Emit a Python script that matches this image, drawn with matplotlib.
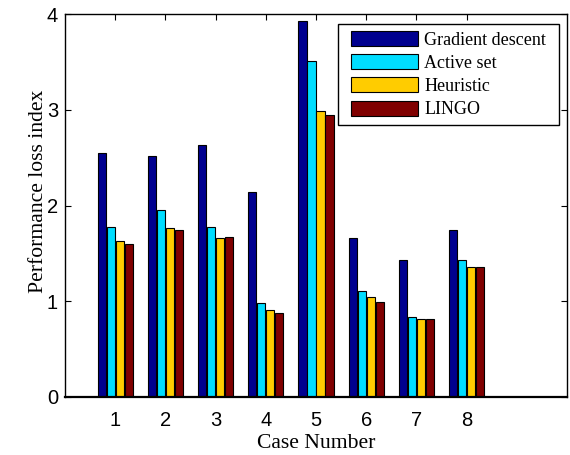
import numpy as np
import matplotlib
matplotlib.use("Agg")
import matplotlib.pyplot as plt
from matplotlib.patches import Rectangle
from matplotlib.transforms import IdentityTransform

cases = [1, 2, 3, 4, 5, 6, 7, 8]
gradient_descent = [2.55, 2.52, 2.63, 2.14, 3.93, 1.66, 1.43, 1.74]
active_set = [1.78, 1.95, 1.78, 0.98, 3.51, 1.11, 0.84, 1.43]
heuristic = [1.63, 1.76, 1.66, 0.91, 2.99, 1.04, 0.81, 1.36]
lingo = [1.60, 1.74, 1.67, 0.88, 2.94, 0.99, 0.81, 1.36]

series_names = ["Gradient descent", "Active set", "Heuristic", "LINGO"]
series_values = [gradient_descent, active_set, heuristic, lingo]
series_colors = ["#00008F", "#00DDFF", "#FFCC00", "#800000"]

serif = ["Liberation Serif", "DejaVu Serif"]
sans = ["Liberation Sans", "DejaVu Sans"]

fig = plt.figure(figsize=(5.70, 4.55), dpi=100)
ax = fig.add_axes([65 / 570, 58 / 455, 502 / 570, 383 / 455])

x = np.array(cases, dtype=float)
slot = 0.18
offsets = (np.arange(4) - 1.5) * slot
for vals, name, col, off in zip(series_values, series_names, series_colors, offsets):
    ax.bar(x + off, vals, width=0.165, color=col, edgecolor="black",
           linewidth=0.8, label=name, zorder=2)

ax.set_xlim(0, 10)
ax.set_ylim(0, 4)
ax.set_xticks(cases)
ax.set_yticks([0, 1, 2, 3, 4])
ax.tick_params(direction="in", top=True, right=True, length=4, width=0.8,
               labelsize=14.5)
ax.tick_params(axis="x", pad=10)
ax.tick_params(axis="y", pad=5)
for lab in ax.get_xticklabels() + ax.get_yticklabels():
    lab.set_family(sans)
for side in ["left", "right", "top"]:
    ax.spines[side].set_linewidth(1.0)
ax.spines["bottom"].set_linewidth(1.6)

ax.set_xlabel("Case Number", family=serif, fontsize=15.6, labelpad=3)
ax.set_ylabel("Performance loss index", family=serif, fontsize=15.6)
ax.yaxis.set_label_coords(-0.034, 0.538)

leg = ax.legend(loc="upper right", bbox_to_anchor=(0.962, 0.960),
                borderaxespad=0, frameon=False,
                prop={"family": serif, "size": 13},
                handlelength=3.7, handleheight=0.9, handletextpad=0.35,
                labelspacing=0.3, borderpad=0.1)
leg.set_zorder(6)

# legend frame: wider side margins than top/bottom
fig.canvas.draw()
bb = leg.get_window_extent()
frame = Rectangle((bb.x0 - 11, bb.y0 - 5), bb.width + 22, bb.height + 10,
                  transform=IdentityTransform(), facecolor="white",
                  edgecolor="black", linewidth=1.0, zorder=5, clip_on=False)
ax.add_patch(frame)

fig.savefig("out.png", dpi=100)
